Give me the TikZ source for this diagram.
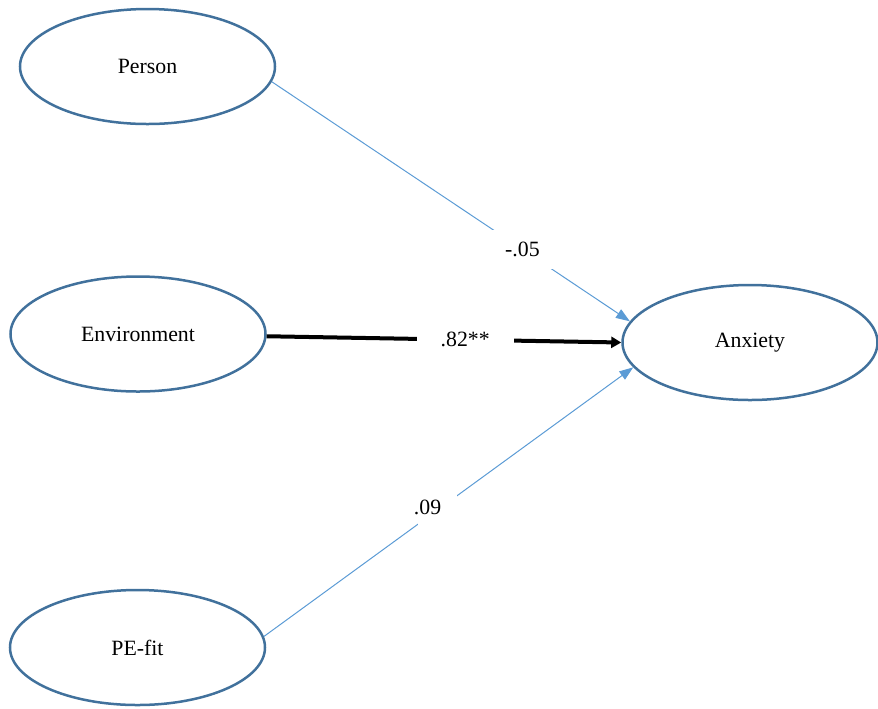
\documentclass[tikz,border=0pt]{standalone}
\usepackage{fontspec}
\setmainfont{Liberation Serif}
\usepackage{tikz}
\usetikzlibrary{shapes.geometric,arrows.meta}

\definecolor{ovalblue}{HTML}{41719C}
\definecolor{pathblue}{HTML}{5B9BD5}

\begin{document}
\begin{tikzpicture}[
    x=0.5pt, y=-0.5pt,
    every node/.style={font=\fontsize{10.9}{13}\selectfont},
    latent/.style={
        ellipse,
        draw=ovalblue,
        line width=1.25pt,
        minimum width=127.5pt,
        minimum height=57.5pt,
        inner sep=0pt,
    },
    path/.style={
        -{Triangle[length=7pt, width=5pt]},
        line width=0.5pt,
        draw=pathblue,
    },
    strongpath/.style={
        -{Triangle[length=5pt, width=5.5pt]},
        line width=2pt,
        draw=black,
    },
    coef/.style={
        fill=white,
        inner xsep=#1,
        inner ysep=6pt,
    },
]

\useasboundingbox (0,0) rectangle (878,708);

% === Predictors ===
\node[latent] (person) at (147.5, 66.5) {Person};
\node[latent] (env) at (138, 334) {Environment};
\node[latent] (pefit) at (137.5, 647.5) {PE-fit};

% === Outcome ===
\node[latent] (anxiety) at (750, 342.5) {Anxiety};

% === Paths ===
\draw[path] (person.-7) -- (anxiety.170)
    node[coef=7pt, pos=0.7] {-.05};
\draw[strongpath] (env.-1.5) -- (anxiety.west)
    node[coef=12pt, pos=0.56] {.82**};
\draw[path] (pefit.5) -- (anxiety.192)
    node[coef=8pt, pos=0.47] {\raisebox{3pt}{\hspace*{-10pt}.09}};

\end{tikzpicture}
\end{document}
